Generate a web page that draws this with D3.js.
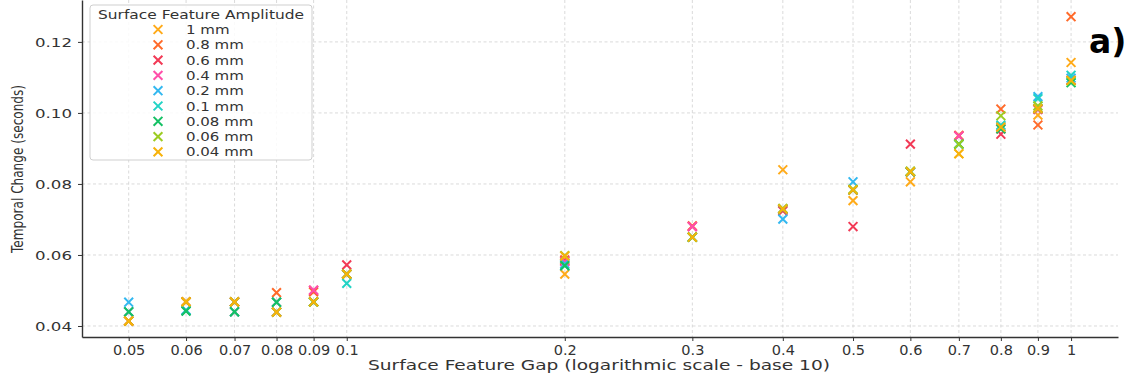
<!DOCTYPE html>
<html><head><meta charset="utf-8">
<script src="https://cdn.jsdelivr.net/npm/d3@7"></script>
<style>
html,body{margin:0;padding:0;background:#fff;}
svg{display:block;font-family:"DejaVu Sans",sans-serif;}
</style></head>
<body>
<svg id="chart" width="1128" height="376"></svg>
<script>
const gaps = [0.05,0.06,0.07,0.08,0.09,0.1,0.2,0.3,0.4,0.5,0.6,0.7,0.8,0.9,1];
const xTickLabels = ["0.05","0.06","0.07","0.08","0.09","0.1","0.2","0.3","0.4","0.5","0.6","0.7","0.8","0.9","1"];
const yTicks = [0.04,0.06,0.08,0.10,0.12];
const yTickLabels = ["0.04","0.06","0.08","0.10","0.12"];
const seriesNames = ["1 mm","0.8 mm","0.6 mm","0.4 mm","0.2 mm","0.1 mm","0.08 mm","0.06 mm","0.04 mm"];
const seriesColors = ["#ffab1a","#ff6a2a","#f23a56","#ff4faa","#33b8f0","#22d3c5","#14c064","#9ccc22","#f7b20a"];
const amp1mm   = [0.0414,0.0468,0.0468,0.0439,0.0468,0.0546,0.0546,0.0650,0.0840,0.0753,0.0806,0.0885,0.0955,0.0994,0.1142];
const amp08mm  = [0.0414,0.0468,0.0468,0.0494,0.0496,0.0546,0.0586,0.0682,0.0727,0.0783,0.0834,0.0937,0.1011,0.0966,0.1271];
const amp06mm  = [0.0414,0.0468,0.0468,0.0439,0.0500,0.0572,0.0583,0.0680,0.0724,0.0680,0.0912,0.0935,0.0940,0.1010,0.1092];
const amp04mm  = [0.0440,0.0443,0.0440,0.0467,0.0501,0.0546,0.0581,0.0680,0.0729,0.0783,0.0834,0.0935,0.0955,0.1010,0.1092];
const amp02mm  = [0.0467,0.0445,0.0468,0.0439,0.0468,0.0546,0.0575,0.0650,0.0701,0.0806,0.0834,0.0912,0.0962,0.1046,0.1098];
const amp01mm  = [0.0440,0.0443,0.0440,0.0467,0.0468,0.0520,0.0570,0.0650,0.0729,0.0783,0.0834,0.0912,0.0966,0.1040,0.1106];
const amp008mm = [0.0440,0.0442,0.0440,0.0467,0.0468,0.0546,0.0570,0.0650,0.0729,0.0783,0.0834,0.0912,0.0955,0.1012,0.1085];
const amp006mm = [0.0414,0.0468,0.0468,0.0439,0.0468,0.0546,0.0598,0.0650,0.0731,0.0785,0.0836,0.0912,0.0992,0.1020,0.1090];
const amp004mm = [0.0414,0.0468,0.0468,0.0439,0.0468,0.0546,0.0597,0.0650,0.0729,0.0783,0.0834,0.0885,0.0960,0.1012,0.1092];
const seriesValues = [amp1mm,amp08mm,amp06mm,amp04mm,amp02mm,amp01mm,amp008mm,amp006mm,amp004mm];

const svg = d3.select("#chart");
const L = 82, R = 1118, T = 0, B = 337;
const x = d3.scaleLog().domain([Math.pow(10,-1.3655), Math.pow(10,0.0648)]).range([L,R]);
const y = d3.scaleLinear().domain([0.0369,0.1318]).range([B,T]);

// grid
const grid = svg.append("g");
grid.selectAll("line.gx").data(gaps).join("line")
  .attr("x1",d=>x(d)).attr("x2",d=>x(d)).attr("y1",T).attr("y2",B)
  .attr("stroke","#d6d6d6").attr("stroke-width",0.9).attr("stroke-dasharray","3,2.5");
grid.selectAll("line.gy").data(yTicks).join("line")
  .attr("x1",L).attr("x2",R).attr("y1",d=>y(d)).attr("y2",d=>y(d))
  .attr("stroke","#d6d6d6").attr("stroke-width",0.9).attr("stroke-dasharray","3,2.5");

// axes
const xAxis = svg.append("g").attr("transform",`translate(0,${B})`)
  .call(d3.axisBottom(x).tickValues(gaps).tickSize(4).tickSizeOuter(0).tickFormat((d,i)=>xTickLabels[i]));
xAxis.select(".domain").attr("stroke","#333").attr("stroke-width",1.4);
xAxis.selectAll(".tick line").attr("stroke","#333").attr("stroke-width",1);
xAxis.selectAll(".tick text").attr("fill","#333").attr("font-size",14.5).attr("font-family","DejaVu Sans")
  .attr("dy",0).attr("y",17.5);

const yAxis = svg.append("g").attr("transform",`translate(${L},0)`)
  .call(d3.axisLeft(y).tickValues(yTicks).tickSize(4).tickSizeOuter(0).tickFormat((d,i)=>yTickLabels[i]));
yAxis.select(".domain").attr("stroke","#333").attr("stroke-width",1.4);
yAxis.selectAll(".tick line").attr("stroke","#333").attr("stroke-width",1);
yAxis.selectAll(".tick text").attr("fill","#333").attr("font-size",13).attr("font-family","DejaVu Sans")
  .attr("x",-10).attr("textLength",37).attr("lengthAdjust","spacingAndGlyphs");

// axis titles
svg.append("text").attr("x",599).attr("y",370).attr("text-anchor","middle")
  .attr("font-size",14).attr("fill","#333")
  .attr("textLength",462).attr("lengthAdjust","spacingAndGlyphs")
  .text("Surface Feature Gap (logarithmic scale - base 10)");
svg.append("text").attr("transform","translate(23,169) rotate(-90)").attr("text-anchor","middle")
  .attr("font-size",15.5).attr("fill","#333")
  .attr("textLength",168).attr("lengthAdjust","spacingAndGlyphs")
  .text("Temporal Change (seconds)");

// markers
const s = 4.4;
function xMark(g, cx, cy, color){
  g.append("path").attr("d",`M${cx-s},${cy-s}L${cx+s},${cy+s}M${cx-s},${cy+s}L${cx+s},${cy-s}`)
   .attr("stroke",color).attr("stroke-width",2).attr("fill","none");
}
const pts = svg.append("g");
seriesValues.forEach((vals,si)=>{
  const g = pts.append("g");
  vals.forEach((v,i)=> xMark(g, x(gaps[i]), y(v), seriesColors[si]));
});

// legend
const lg = svg.append("g");
lg.append("rect").attr("x",90).attr("y",5).attr("width",222).attr("height",155).attr("rx",3)
  .attr("fill","rgba(255,255,255,0.85)").attr("stroke","#cfcfcf").attr("stroke-width",1);
lg.append("text").attr("x",201).attr("y",19).attr("text-anchor","middle").attr("font-size",12.5)
  .attr("fill","#333").attr("textLength",206).attr("lengthAdjust","spacingAndGlyphs")
  .text("Surface Feature Amplitude");
seriesNames.forEach((n,i)=>{
  const cy = 29.5 + i*15.3;
  xMark(lg,158,cy,seriesColors[i]);
  const t = lg.append("text").attr("x",186).attr("y",cy+4.5).attr("font-size",12).attr("fill","#333").text(n);
  const w = t.node().getComputedTextLength();
  t.attr("textLength",w*1.25).attr("lengthAdjust","spacingAndGlyphs");
});

// panel label
svg.append("text").attr("x",1089).attr("y",53).attr("font-size",33).attr("font-weight","bold")
  .attr("fill","#000").text("a)");
</script>
</body></html>
